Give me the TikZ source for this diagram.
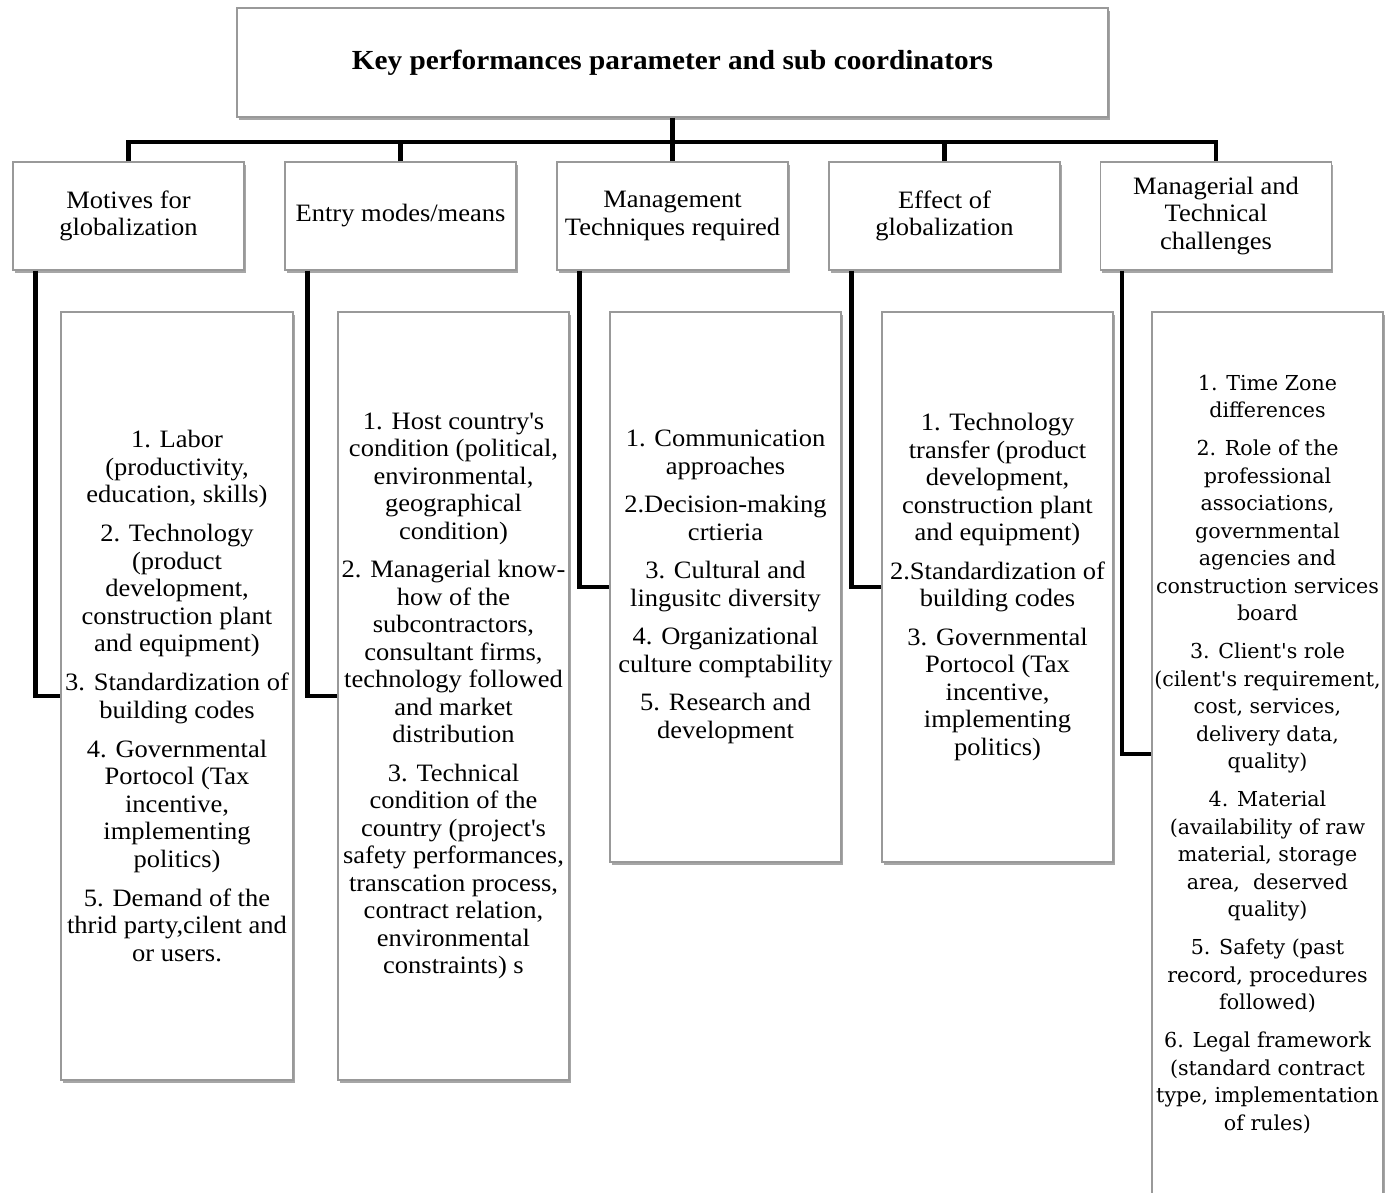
\documentclass[tikz,border=0pt]{standalone}
\usepackage{fontspec}
\setmainfont{Liberation Serif}[FakeStretch=1.06]
\newfontfamily\widefont{DejaVu Serif}
\usetikzlibrary{shadows}

\begin{document}
\begin{tikzpicture}[x=1pt,y=1pt,
  box/.style={rectangle, draw=black!40, line width=1.3pt, fill=white,
    inner sep=0pt, align=center,
    drop shadow={shadow xshift=1.5pt, shadow yshift=-3pt, fill=black, opacity=0.35}},
  body/.style={font=\fontsize{25}{27.5}\selectfont},
  widebody/.style={font=\widefont\fontsize{20.6}{27.5}\selectfont},
  catbox/.style={box, body, minimum width=231pt, minimum height=108pt},
  conn/.style={line width=4.6pt, draw=black}
]
\useasboundingbox (0,0) rectangle (1390,-1192);

% root
\node[box, minimum width=871pt, minimum height=109pt,
      font=\fontsize{27.6}{30}\selectfont\bfseries] (top) at (672.5,-62.5)
  {Key performances parameter and sub coordinators};

% categories
\node[catbox] (c1) at (128.5,-216) {Motives for\\globalization};
\node[catbox] (c2) at (400.5,-216) {Entry modes/means};
\node[catbox] (c3) at (672.5,-216) {Management\\Techniques required};
\node[catbox] (c4) at (944.5,-216) {Effect of\\globalization};
\node[catbox] (c5) at (1216,-216) {Managerial and\\Technical\\challenges};

% detail lists
\node[box, body, minimum width=232pt, minimum height=768pt] (d1) at (177,-696)
  {1. Labor\\(productivity,\\education, skills)\\[11.5pt]
   2. Technology\\(product\\development,\\construction plant\\and equipment)\\[11.5pt]
   3. Standardization of\\building codes\\[11.5pt]
   4. Governmental\\Portocol (Tax\\incentive,\\implementing\\politics)\\[11.5pt]
   5. Demand of the\\thrid party,cilent and\\or users.};

\node[box, body, minimum width=231pt, minimum height=768pt] (d2) at (453.5,-696)
  {1. Host country\textquotesingle s\\condition (political,\\environmental,\\geographical\\condition)\\[11pt]
   2. Managerial know-\\how of the\\subcontractors,\\consultant firms,\\technology followed\\and market\\distribution\\[11pt]
   3. Technical\\condition of the\\country (project\textquotesingle s\\safety performances,\\transcation process,\\contract relation,\\environmental\\constraints) s};

\node[box, body, minimum width=231pt, minimum height=550pt] (d3) at (725.5,-587)
  {1. Communication\\approaches\\[11pt]
   2.Decision-making\\crtieria\\[11pt]
   3. Cultural and\\lingusitc diversity\\[11pt]
   4. Organizational\\culture comptability\\[11pt]
   5. Research and\\development};

\node[box, body, minimum width=231pt, minimum height=550pt] (d4) at (997.5,-587)
  {1. Technology\\transfer (product\\development,\\construction plant\\and equipment)\\[11pt]
   2.Standardization of\\building codes\\[11pt]
   3. Governmental\\Portocol (Tax\\incentive,\\implementing\\politics)};

\node[box, widebody, minimum width=231pt, minimum height=884pt] (d5) at (1267.5,-754)
  {1. Time Zone\\differences\\[10.5pt]
   2. Role of the\\professional\\associations,\\governmental\\agencies and\\construction services\\board\\[10.5pt]
   3. Client\textquotesingle s role\\(cilent\textquotesingle s requirement,\\cost, services,\\delivery data,\\quality)\\[10.5pt]
   4. Material\\(availability of raw\\material, storage\\area,\ \ deserved\\quality)\\[10.5pt]
   5. Safety (past\\record, procedures\\followed)\\[10.5pt]
   6. Legal framework\\(standard contract\\type, implementation\\of rules)};

% tree connectors
\coordinate (bar) at (672.5,-142);
\draw[conn] (top.south) -- (bar);
\draw[conn] (c1.north) |- (bar) -| (c5.north);
\draw[conn] (c2.north) -- (c2.north |- bar);
\draw[conn] (c3.north) -- (c3.north |- bar);
\draw[conn] (c4.north) -- (c4.north |- bar);

% category to list connectors
\draw[conn] ([xshift=23pt]c1.south west) |- (d1.west);
\draw[conn] ([xshift=23pt]c2.south west) |- (d2.west);
\draw[conn] ([xshift=23pt]c3.south west) |- (d3.west);
\draw[conn] ([xshift=23pt]c4.south west) |- (d4.west);
\draw[conn] ([xshift=22pt]c5.south west) |- (d5.west);
\end{tikzpicture}
\end{document}
